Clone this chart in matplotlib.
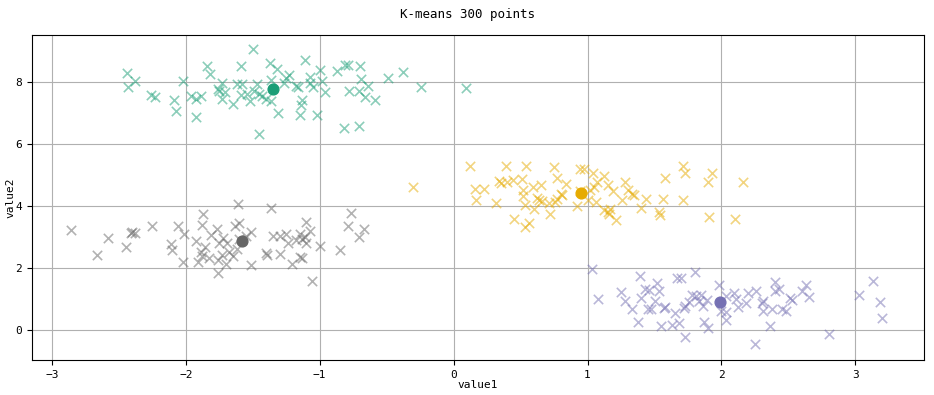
import numpy as np
import matplotlib
matplotlib.use("Agg")
import matplotlib.pyplot as plt

plt.rcParams['font.family'] = ['DejaVu Sans Mono', 'DejaVu Sans']

# cluster 0 (green)
g_x = [-2.44, -2.43, -2.38, -2.26, -2.23, -2.09, -2.07, -2.02, -1.96, -1.92,
       -1.89, -1.92, -1.84, -1.82, -1.76, -1.73, -1.75, -1.71, -1.73, -1.65,
       -1.62, -1.59, -1.58, -1.59, -1.54, -1.52, -1.50, -1.47, -1.49, -1.45,
       -1.43, -1.40, -1.37, -1.36, -1.36, -1.32, -1.31, -1.27, -1.23, -1.25,
       -1.18, -1.16, -1.11, -1.07, -1.07, -1.05, -1.13, -1.14, -1.15, -1.02,
       -1.00, -0.98, -0.96, -0.87, -0.81, -0.79, -0.70, -0.69, -0.64, -0.78,
       -0.71, -0.66, -0.59, -0.49, -0.38, -0.24, -0.82, -0.71, -1.45, 0.09]
g_y = [8.29, 7.86, 8.04, 7.58, 7.52, 7.41, 7.08, 8.05, 7.56, 7.45,
       7.56, 6.86, 8.51, 8.25, 7.77, 7.97, 7.70, 7.67, 7.45, 7.30,
       7.95, 8.51, 7.95, 7.59, 7.62, 7.38, 9.06, 7.95, 7.73, 7.62,
       7.54, 7.45, 8.61, 8.08, 7.38, 8.42, 7.02, 7.99, 8.24, 8.13,
       7.88, 7.84, 8.72, 8.16, 7.97, 7.84, 7.43, 7.27, 6.95, 6.94,
       8.38, 8.05, 7.67, 8.35, 8.55, 8.55, 8.51, 8.10, 7.88, 7.72,
       7.73, 7.52, 7.41, 8.12, 8.34, 7.83, 6.52, 6.57, 6.32, 7.81]

# cluster 1 (yellow)
y_x = [-0.30, 0.12, 0.16, 0.17, 0.23, 0.32, 0.34, 0.35, 0.39, 0.40,
       0.44, 0.45, 0.51, 0.52, 0.52, 0.54, 0.53, 0.53, 0.56, 0.59,
       0.60, 0.62, 0.64, 0.65, 0.66, 0.71, 0.72, 0.75, 0.77, 0.76,
       0.77, 0.80, 0.81, 0.84, 0.92, 0.94, 0.97, 0.94, 1.00, 1.02,
       1.04, 1.05, 1.06, 1.07, 1.12, 1.12, 1.15, 1.15, 1.17, 1.16,
       1.19, 1.21, 1.26, 1.28, 1.30, 1.33, 1.35, 1.40, 1.44, 1.53,
       1.54, 1.56, 1.58, 1.71, 1.71, 1.73, 1.90, 1.93, 1.91, 2.10, 2.16]
y_y = [4.63, 5.30, 4.55, 4.20, 4.55, 4.10, 4.80, 4.74, 5.30, 4.76,
       4.85, 3.59, 4.87, 4.51, 4.31, 5.28, 4.02, 3.31, 3.45, 4.61,
       3.90, 4.26, 4.18, 4.67, 4.15, 4.10, 3.73, 5.26, 4.92, 4.12,
       4.23, 4.40, 4.34, 4.72, 3.99, 5.19, 5.19, 4.47, 4.20, 4.51,
       5.06, 4.61, 4.13, 4.76, 4.98, 3.88, 4.67, 3.82, 3.90, 3.74,
       4.47, 3.56, 4.20, 4.77, 4.51, 4.40, 4.37, 3.94, 4.23, 3.80,
       3.71, 4.23, 4.91, 4.20, 5.28, 5.06, 4.76, 5.06, 3.63, 3.59, 4.78]

# cluster 2 (purple)
p_x = [1.03, 1.08, 1.25, 1.28, 1.33, 1.38, 1.39, 1.40, 1.43, 1.45,
       1.47, 1.46, 1.50, 1.52, 1.53, 1.55, 1.57, 1.58, 1.63, 1.65,
       1.67, 1.70, 1.68, 1.72, 1.73, 1.73, 1.76, 1.78, 1.80, 1.81,
       1.83, 1.85, 1.86, 1.87, 1.89, 1.90, 1.98, 2.03, 2.03, 2.03,
       2.00, 2.09, 2.11, 2.12, 2.18, 2.20, 2.25, 2.26, 2.30, 2.31,
       2.31, 2.36, 2.38, 2.40, 2.40, 2.43, 2.45, 2.48, 2.51, 2.53,
       2.60, 2.63, 2.65, 2.80, 3.03, 3.13, 3.18, 3.20]
p_y = [1.95, 1.00, 1.22, 0.92, 0.66, 0.25, 1.75, 1.03, 1.32, 0.66,
       0.68, 1.28, 0.92, 1.52, 1.25, 0.12, 0.71, 0.74, 0.17, 0.55,
       1.67, 1.67, 0.23, 0.71, 0.76, -0.23, 0.89, 1.14, 1.86, 1.09,
       0.92, 1.11, 0.76, 0.25, 0.96, 0.06, 1.46, 0.57, 0.31, 1.09,
       0.60, 1.19, 1.00, 0.74, 0.87, 1.19, -0.47, 1.25, 0.87, 0.92,
       0.60, 0.12, 0.66, 1.54, 1.25, 1.32, 0.66, 0.60, 1.03, 0.96,
       1.25, 1.46, 1.06, -0.12, 1.11, 1.57, 0.89, 0.38]

# cluster 3 (gray)
k_x = [-2.86, -2.66, -2.58, -2.45, -2.41, -2.38, -2.40, -2.25, -2.11, -2.10,
       -2.06, -2.01, -2.02, -1.92, -1.91, -1.88, -1.87, -1.89, -1.86, -1.88,
       -1.83, -1.81, -1.77, -1.76, -1.76, -1.75, -1.72, -1.73, -1.70, -1.69,
       -1.68, -1.65, -1.63, -1.62, -1.60, -1.60, -1.61, -1.55, -1.51, -1.51,
       -1.40, -1.39, -1.36, -1.35, -1.30, -1.30, -1.25, -1.24, -1.21, -1.18,
       -1.15, -1.15, -1.13, -1.13, -1.11, -1.10, -1.10, -1.07, -1.06, -1.00,
       -0.85, -0.79, -0.77, -0.71, -0.67]
k_y = [3.23, 2.42, 2.98, 2.67, 3.12, 3.12, 3.16, 3.34, 2.78, 2.57,
       3.34, 3.09, 2.20, 2.88, 2.20, 3.40, 3.74, 2.53, 2.67, 2.37,
       2.32, 3.07, 3.25, 2.25, 1.84, 2.80, 2.96, 2.42, 2.14, 2.80,
       2.53, 2.40, 3.36, 2.61, 3.44, 2.93, 4.05, 3.04, 3.17, 2.10,
       2.48, 2.43, 3.94, 3.02, 2.46, 3.04, 3.10, 2.82, 2.14, 2.91,
       3.10, 2.35, 2.31, 2.93, 2.99, 3.49, 2.80, 3.18, 1.57, 2.70,
       2.58, 3.36, 3.79, 2.99, 3.25]

centers_x = [-1.35, 0.95, 1.99, -1.58]
centers_y = [7.77, 4.42, 0.89, 2.86]
colors = ['#1b9e77', '#e6ab02', '#7570b3', '#666666']

fig = plt.figure(figsize=(9.34, 3.95), dpi=100)
ax = fig.add_axes([0.034, 0.089, 0.955, 0.822])

clusters = [(g_x, g_y), (y_x, y_y), (p_x, p_y), (k_x, k_y)]
for (cx, cy), c in zip(clusters, colors):
    ax.scatter(cx, cy, marker='x', s=45, color=c, alpha=0.5, linewidths=1.2)
for x0, y0, c in zip(centers_x, centers_y, colors):
    ax.scatter(x0, y0, marker='o', s=60, color=c, zorder=3)

ax.set_xlim(-3.15, 3.51)
ax.set_ylim(-0.97, 9.52)
ax.set_xticks([-3, -2, -1, 0, 1, 2, 3])
ax.set_yticks([0, 2, 4, 6, 8])
ax.grid(True, color='#b0b0b0', linewidth=0.8)
ax.set_axisbelow(True)
ax.tick_params(labelsize=8)
ax.set_xlabel('value1', fontsize=8, labelpad=0)
ax.set_ylabel('value2', fontsize=8, labelpad=0)
fig.suptitle('K-means 300 points', fontsize=9, y=0.98)

fig.savefig('out.png', dpi=100)
